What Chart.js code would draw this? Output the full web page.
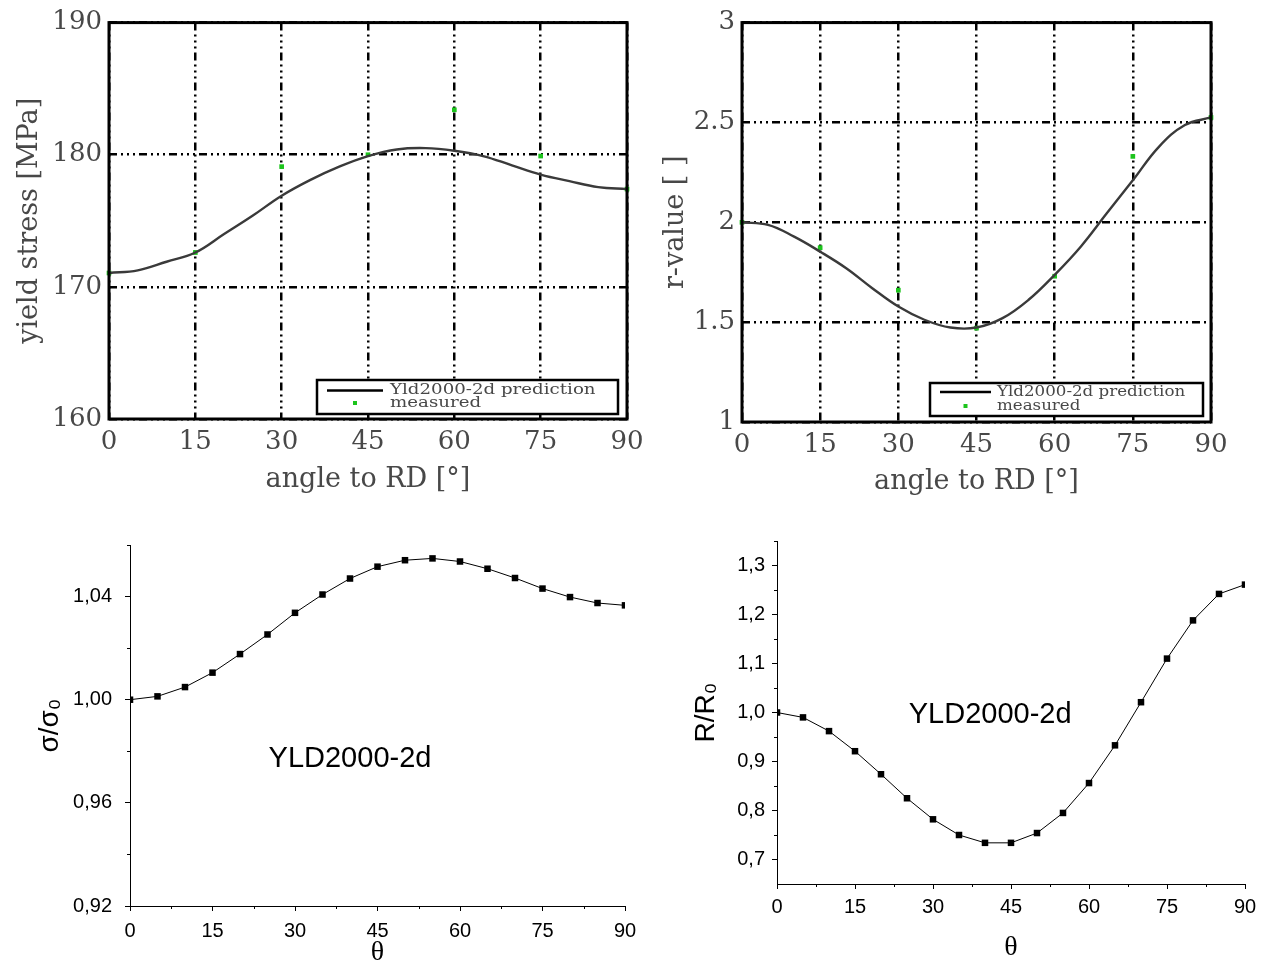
<!DOCTYPE html>
<html>
<head>
<meta charset="utf-8">
<title>Yld2000-2d anisotropy</title>
<script src="https://cdn.jsdelivr.net/npm/chart.js@4.4.1/dist/chart.umd.min.js"></script>
<style>
  html, body { margin: 0; background: #fff; overflow: hidden; }
  #page { position: relative; width: 1270px; height: 967px; }
  #page canvas { position: absolute; }
</style>
</head>
<body>
<div id="page">
  <canvas id="stress" width="660" height="510" style="left:0;top:0"></canvas>
  <canvas id="rvalue" width="630" height="510" style="left:640px;top:0"></canvas>
  <canvas id="stressRatio" width="650" height="447" style="left:0;top:520px"></canvas>
  <canvas id="rRatio" width="590" height="447" style="left:680px;top:520px"></canvas>
</div>
<script>
// angles to rolling direction
const angles = [0, 5, 10, 15, 20, 25, 30, 35, 40, 45, 50, 55, 60, 65, 70, 75, 80, 85, 90];
const testAngles = [0, 15, 30, 45, 60, 75, 90];

// yield stress [MPa]
const stressPred = [171.05, 171.25, 171.9, 172.6, 174.0, 175.4, 176.9, 178.1, 179.1, 179.9,
  180.4, 180.5, 180.3, 179.9, 179.2, 178.5, 178.0, 177.55, 177.4];
const stressMeasured = [171.05, 172.6, 179.1, 180.0, 183.4, 179.9, 177.4];

// r-value
const rPred = [2.0, 1.987, 1.928, 1.853, 1.77, 1.67, 1.578, 1.512, 1.473, 1.473,
  1.52, 1.612, 1.737, 1.878, 2.045, 2.21, 2.378, 2.487, 2.525];
const rMeasured = [2.0, 1.873, 1.66, 1.47, 1.73, 2.33, 2.525];

// normalised by the RD value
const stressRatio = [1.0, 1.0013, 1.0049, 1.0105, 1.0177, 1.0253, 1.0337, 1.0408, 1.047, 1.0516,
  1.0541, 1.0548, 1.0536, 1.0508, 1.0472, 1.0431, 1.0398, 1.0375, 1.0366];
const rRatio = [1.0, 0.99, 0.962, 0.921, 0.874, 0.825, 0.782, 0.75, 0.734, 0.734,
  0.754, 0.795, 0.856, 0.933, 1.021, 1.11, 1.188, 1.242, 1.261];

// ticks
const angleTicks = [0, 15, 30, 45, 60, 75, 90];
const angleMinor = [7.5, 22.5, 37.5, 52.5, 67.5, 82.5];
const stressTicks = [160, 170, 180, 190];
const rTicks = [1, 1.5, 2, 2.5, 3];
const stressRatioTicks = [0.92, 0.96, 1.0, 1.04];
const stressRatioMinor = [0.94, 0.98, 1.02, 1.06];
const rRatioTicks = [0.7, 0.8, 0.9, 1.0, 1.1, 1.2, 1.3];
const rRatioMinor = [0.75, 0.85, 0.95, 1.05, 1.15, 1.25, 1.35];

const SERIF_TEX = '"DejaVu Serif", serif';
const SANS = '"Liberation Sans", Arial, sans-serif';
const SERIF = '"Liberation Serif", "Times New Roman", serif';
const TEX_GREY = '#484848';
const GRID_DASH = [8, 4, 2, 4, 2, 4, 2, 4];

const pts = (xs, ys) => xs.map((x, i) => ({ x: x, y: ys[i] }));
const fixTicks = list => scale => { scale.ticks = list.map(v => ({ value: v })); };

// heavy frame around the plot area
const frameBox = {
  id: 'frameBox',
  afterDatasetsDraw(chart, args, o) {
    const { ctx, chartArea: a } = chart;
    ctx.save();
    ctx.lineWidth = o.width;
    ctx.strokeStyle = '#000';
    ctx.strokeRect(a.left, a.top, a.right - a.left, a.bottom - a.top);
    ctx.restore();
  }
};

// boxed legend in the lower right corner
const boxLegend = {
  id: 'boxLegend',
  afterDraw(chart, args, o) {
    const { ctx, chartArea: a } = chart;
    const ds = chart.data.datasets;
    const x = a.right - o.right - o.width;
    const y = a.bottom - o.bottom - o.height;
    ctx.save();
    ctx.fillStyle = '#fff';
    ctx.fillRect(x, y, o.width, o.height);
    ctx.lineWidth = 2.5;
    ctx.strokeStyle = '#000';
    ctx.strokeRect(x, y, o.width, o.height);

    ctx.strokeStyle = '#000';
    ctx.lineWidth = 2.5;
    ctx.beginPath();
    ctx.moveTo(x + 10, y + o.row1);
    ctx.lineTo(x + 10 + o.sample, y + o.row1);
    ctx.stroke();
    ctx.fillStyle = ds[1].backgroundColor;
    ctx.fillRect(x + 10 + o.sample / 2 - 2, y + o.row2 - 2, 4, 4);

    ctx.font = '14px ' + SERIF_TEX;
    ctx.fillStyle = TEX_GREY;
    ctx.textBaseline = 'middle';
    [o.row1, o.row2].forEach((ry, i) => {
      ctx.save();
      ctx.translate(x + o.textX, y + ry);
      ctx.scale(o.stretch, 1);
      ctx.fillText(ds[i].label, 0, 0);
      ctx.restore();
    });
    ctx.restore();
  }
};

// short unlabelled ticks between the labelled ones
const minorTicks = {
  id: 'minorTicks',
  afterDraw(chart, args, o) {
    const { ctx, scales: { x, y } } = chart;
    ctx.save();
    ctx.strokeStyle = '#000';
    ctx.lineWidth = 1;
    ctx.beginPath();
    o.x.forEach(v => {
      const px = Math.round(x.getPixelForValue(v)) + 0.5;
      ctx.moveTo(px, x.top);
      ctx.lineTo(px, x.top + o.length);
    });
    o.y.forEach(v => {
      const py = Math.round(y.getPixelForValue(v)) + 0.5;
      ctx.moveTo(y.right, py);
      ctx.lineTo(y.right - o.length, py);
    });
    ctx.stroke();
    ctx.restore();
  }
};

// model name written inside the plot
const modelTag = {
  id: 'modelTag',
  afterDraw(chart, args, o) {
    const { ctx, scales: { x, y } } = chart;
    ctx.save();
    ctx.font = '29px ' + SANS;
    ctx.fillStyle = '#000';
    ctx.textAlign = 'center';
    ctx.textBaseline = 'middle';
    ctx.fillText(o.text, x.getPixelForValue(o.at[0]), y.getPixelForValue(o.at[1]));
    ctx.restore();
  }
};

function texChart(id, c) {
  const axisFont = { family: SERIF_TEX, size: 26 };
  const titleFont = { family: SERIF_TEX, size: 27, lineHeight: 1.2 };
  return new Chart(document.getElementById(id), {
    type: 'line',
    data: {
      datasets: [
        {
          label: 'Yld2000-2d prediction',
          data: pts(angles, c.pred),
          borderColor: '#3a3a3a',
          borderWidth: 2.4,
          pointRadius: 0,
          tension: 0.4,
          clip: false
        },
        {
          label: 'measured',
          data: pts(testAngles, c.measured),
          showLine: false,
          pointStyle: 'rect',
          pointRadius: 3.3,
          backgroundColor: '#1cc41c',
          pointBackgroundColor: '#1cc41c',
          pointBorderWidth: 0,
          clip: false
        }
      ]
    },
    options: {
      responsive: false,
      animation: false,
      layout: { padding: c.padding },
      plugins: {
        legend: { display: false },
        tooltip: { enabled: false },
        frameBox: { width: 3 },
        boxLegend: c.legend
      },
      scales: {
        x: {
          type: 'linear', min: 0, max: 90,
          afterBuildTicks: fixTicks(angleTicks),
          afterFit: s => { s.height = c.xHeight; s.paddingLeft = 0; s.paddingRight = 0; },
          grid: { color: '#000', lineWidth: 2.5, drawTicks: false },
          border: { display: false, dash: GRID_DASH },
          ticks: { padding: 8, color: TEX_GREY, font: axisFont },
          title: { display: true, text: 'angle to RD [°]', padding: 0, color: TEX_GREY, font: titleFont }
        },
        y: {
          min: c.ticks[0], max: c.ticks[c.ticks.length - 1],
          afterBuildTicks: fixTicks(c.ticks),
          afterFit: s => { s.width = c.yWidth; },
          grid: { color: '#000', lineWidth: 2.5, drawTicks: false },
          border: { display: false, dash: GRID_DASH },
          ticks: { padding: 7, color: TEX_GREY, font: axisFont, callback: v => String(v) },
          title: { display: true, text: c.yTitle, padding: 0, color: TEX_GREY, font: titleFont }
        }
      }
    },
    plugins: [frameBox, boxLegend]
  });
}

function ratioChart(id, c) {
  const tickFont = { family: SANS, size: 20 };
  return new Chart(document.getElementById(id), {
    type: 'line',
    data: {
      datasets: [{
        data: pts(angles, c.values),
        borderColor: '#000',
        borderWidth: 1,
        tension: 0,
        pointStyle: 'rect',
        pointRadius: 4.6,
        pointBackgroundColor: '#000',
        pointBorderWidth: 0
      }]
    },
    options: {
      responsive: false,
      animation: false,
      layout: { padding: c.padding },
      plugins: {
        legend: { display: false },
        tooltip: { enabled: false },
        minorTicks: { x: angleMinor, y: c.minor, length: 3 },
        modelTag: { text: 'YLD2000-2d', at: c.tagAt }
      },
      scales: {
        x: {
          type: 'linear', min: 0, max: 90,
          afterBuildTicks: fixTicks(angleTicks),
          afterFit: s => { s.height = c.xHeight; },
          grid: { drawOnChartArea: false, color: '#000', tickLength: 5 },
          border: { color: '#000', width: 1 },
          ticks: { padding: c.xPad, color: '#000', font: tickFont },
          title: { display: true, text: 'θ', padding: 0, color: '#000', font: { family: SERIF, size: 28, lineHeight: 1 } }
        },
        y: {
          min: c.range[0], max: c.range[1],
          afterBuildTicks: fixTicks(c.ticks),
          afterFit: s => { s.width = c.yWidth; },
          grid: { drawOnChartArea: false, color: '#000', tickLength: 5 },
          border: { color: '#000', width: 1 },
          ticks: {
            padding: c.yPad, color: '#000', font: tickFont,
            callback: v => v.toFixed(c.decimals).replace('.', ',')
          },
          title: { display: true, text: c.yTitle, padding: 0, color: '#000', font: { family: SANS, size: 28, lineHeight: 1 } }
        }
      }
    },
    plugins: [minorTicks, modelTag]
  });
}

texChart('stress', {
  pred: stressPred,
  measured: stressMeasured,
  ticks: stressTicks,
  yTitle: 'yield stress [MPa]',
  padding: { left: 14, right: 33, top: 20, bottom: 13.8 },
  yWidth: 95,
  xHeight: 77.2,
  legend: { width: 301, height: 34, right: 9, bottom: 5, sample: 56, textX: 73, row1: 10.5, row2: 23, stretch: 1.3 }
});

texChart('rvalue', {
  pred: rPred,
  measured: rMeasured,
  ticks: rTicks,
  yTitle: 'r-value [ ]',
  padding: { left: 20, right: 59, top: 22, bottom: 11.8 },
  yWidth: 82,
  xHeight: 76.2,
  legend: { width: 273, height: 33, right: 8, bottom: 6, sample: 51, textX: 67, row1: 9, row2: 23, stretch: 1.19 }
});

ratioChart('stressRatio', {
  values: stressRatio,
  range: [0.92, 1.06],
  ticks: stressRatioTicks,
  minor: stressRatioMinor,
  decimals: 2,
  yTitle: 'σ/σ₀',
  tagAt: [40, 0.977],
  padding: { left: 36, right: 25, top: 22, bottom: 0 },
  yWidth: 94,
  xHeight: 61,
  xPad: 8,
  yPad: 13
});

ratioChart('rRatio', {
  values: rRatio,
  range: [0.65, 1.35],
  ticks: rRatioTicks,
  minor: rRatioMinor,
  decimals: 1,
  yTitle: 'R/R₀',
  tagAt: [41, 0.995],
  padding: { left: 12, right: 25, top: 21, bottom: 5 },
  yWidth: 85,
  xHeight: 78,
  xPad: 6,
  yPad: 7
});
</script>
</body>
</html>
